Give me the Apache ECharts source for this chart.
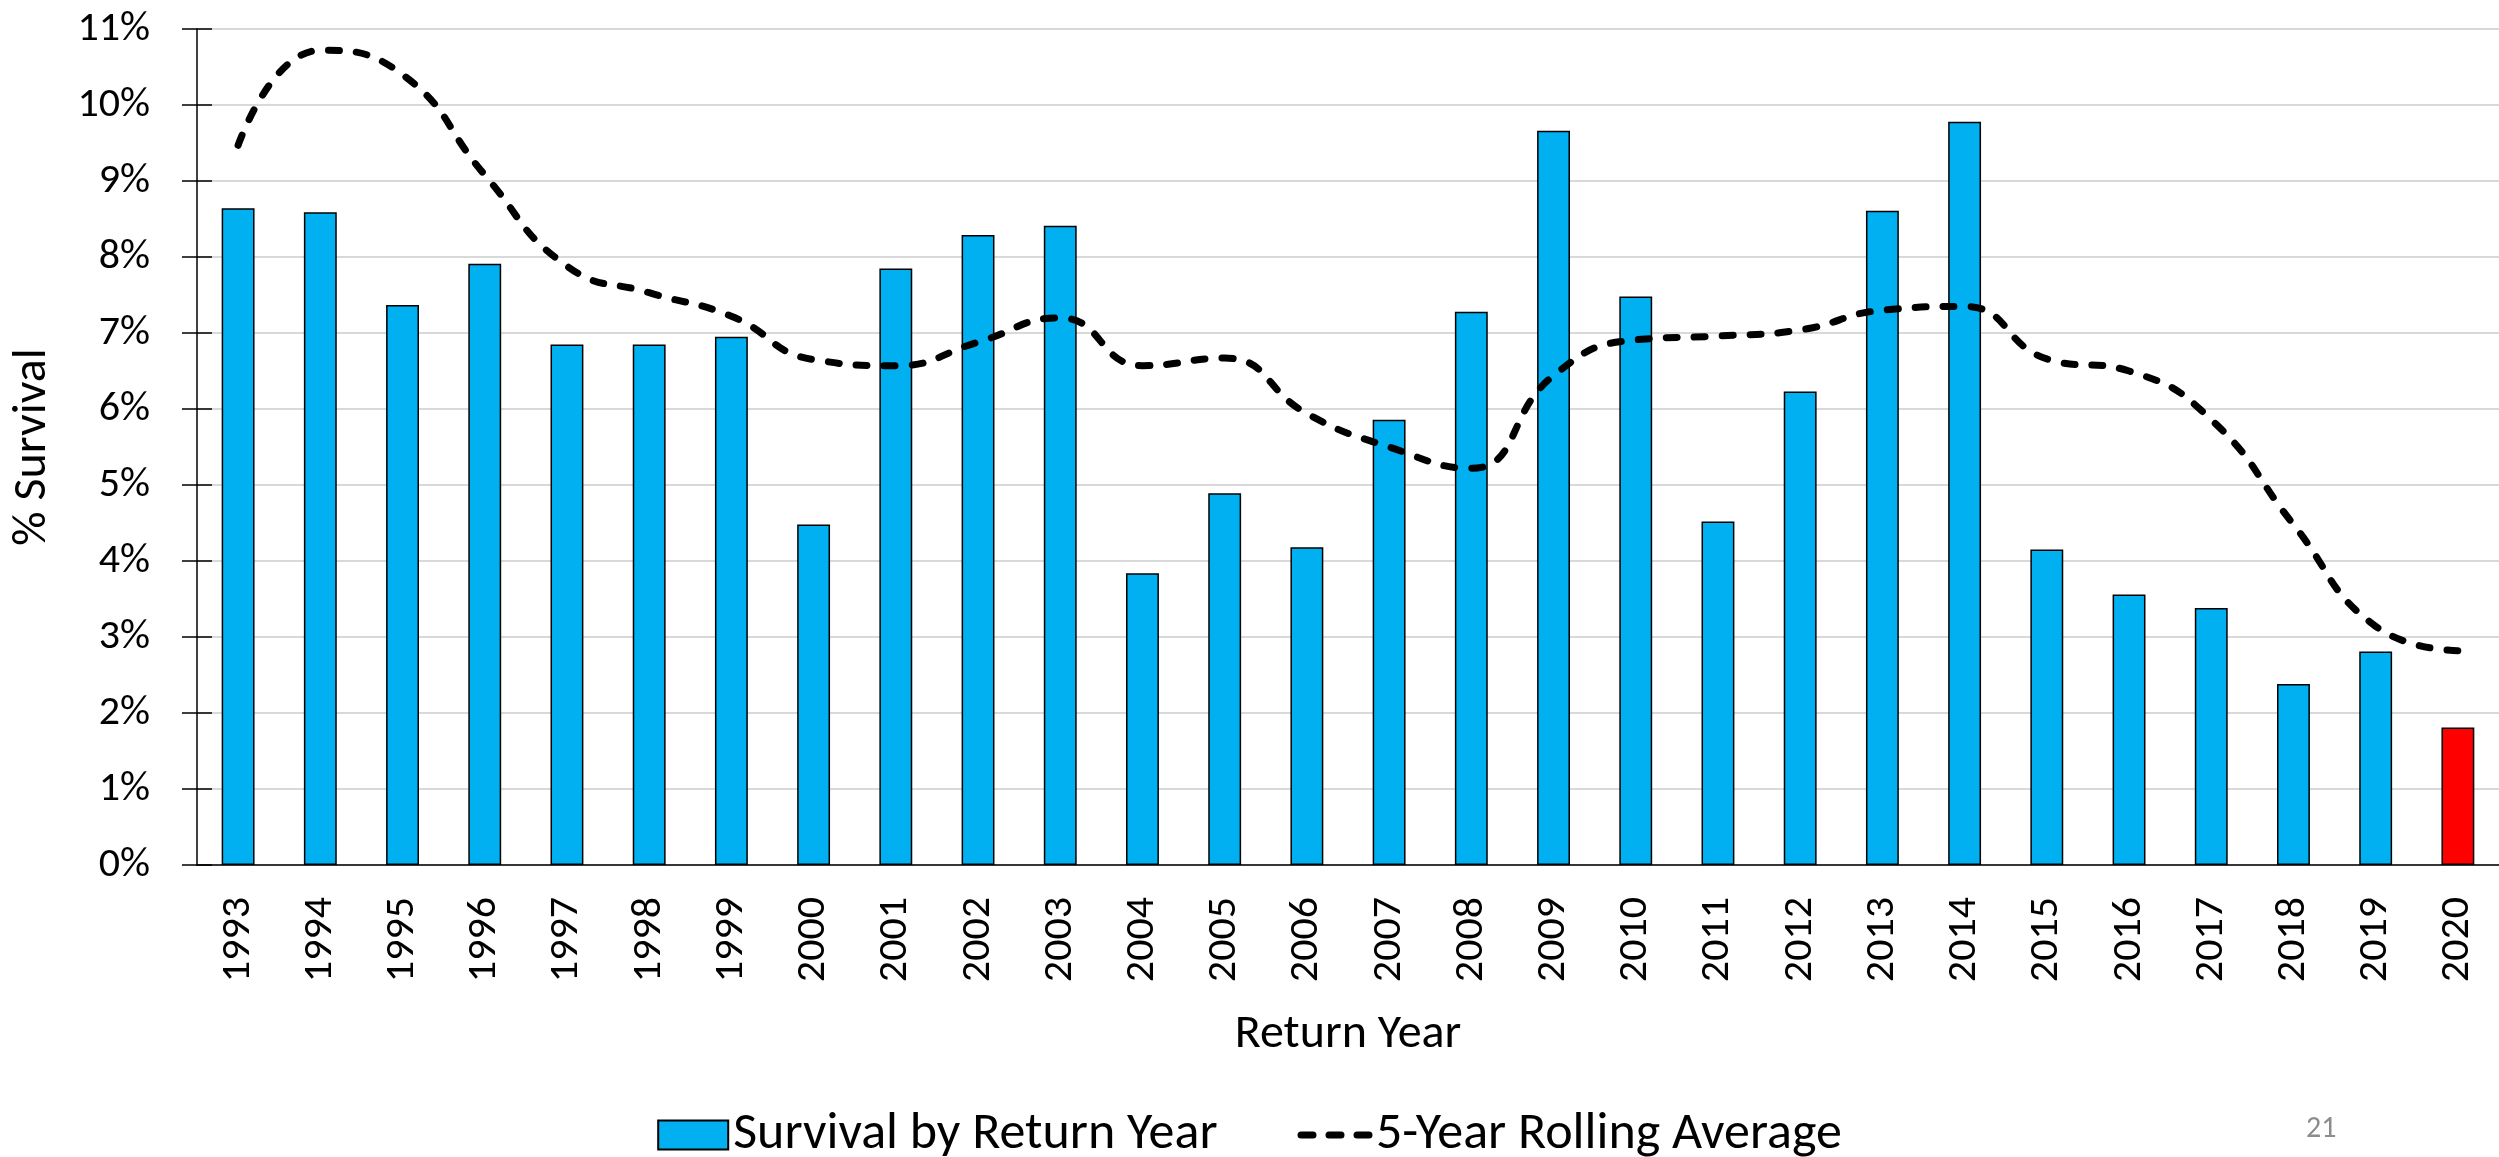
<!DOCTYPE html>
<html>
<head>
<meta charset="utf-8">
<title>Survival by Return Year</title>
<script src="https://cdn.jsdelivr.net/npm/echarts@6/dist/echarts.min.js"></script>
<style>
  html, body { margin: 0; padding: 0; background: #fff; }
  #chart { width: 2499px; height: 1157px; }
</style>
</head>
<body>
<div id="chart"></div>
<script>
// return years (x axis)
const years = ['1993', '1994', '1995', '1996', '1997', '1998', '1999', '2000', '2001', '2002',
  '2003', '2004', '2005', '2006', '2007', '2008', '2009', '2010', '2011', '2012',
  '2013', '2014', '2015', '2016', '2017', '2018', '2019', '2020'];

// % survival per return year
const survival = [8.64, 8.59, 7.37, 7.91, 6.85, 6.85, 6.95, 4.48, 7.85, 8.29,
  8.41, 3.84, 4.89, 4.18, 5.86, 7.28, 9.66, 7.48, 4.52, 6.23,
  8.61, 9.78, 4.15, 3.56, 3.38, 2.38, 2.81, 1.81];

// 5-year rolling average (smoothed line)
const rolling = [9.47, 10.72, 10.40, 9.08, 7.88, 7.53, 7.22, 6.65, 6.57, 6.88,
  7.20, 6.57, 6.67, 5.94, 5.50, 5.22, 6.44, 6.91, 6.96, 7.04,
  7.30, 7.35, 6.66, 6.50, 5.86, 4.48, 3.14, 2.82];

// the latest year is highlighted
const highlightYear = '2020';

const yTicks = { min: 0, max: 11, interval: 1 };

const FONT = 'Carlito, Calibri, Lato, sans-serif';
const BLUE = '#00B0F0';
const RED = '#FF0000';

let chartDom = document.getElementById('chart');
let myChart = echarts.init(chartDom);

const barData = survival.map((v, i) => ({
  value: v,
  itemStyle: years[i] === highlightYear ? { color: RED } : undefined
}));

const dashStyle = { color: '#000', width: 7, type: [11, 17], cap: 'round' };

const option = {
  backgroundColor: '#fff',
  animation: false,
  textStyle: { fontFamily: FONT, color: '#000' },
  grid: { left: 197, right: 0, top: 29, bottom: 292, containLabel: false },
  legend: {
    left: 'center',
    top: 1104,
    itemWidth: 70,
    itemHeight: 29,
    itemGap: 80,
    textStyle: { fontFamily: FONT, fontSize: 52, color: '#000' },
    data: [
      { name: 'Survival by Return Year', icon: 'rect' },
      {
        name: '5-Year Rolling Average',
        itemStyle: { opacity: 0, borderWidth: 0 },
        lineStyle: { color: '#000', width: 7, type: [12, 16], cap: 'round' }
      }
    ]
  },
  xAxis: [
    {
      type: 'category',
      data: years,
      boundaryGap: true,
      name: 'Return Year',
      nameLocation: 'middle',
      nameGap: 146,
      nameTextStyle: { fontFamily: FONT, fontSize: 48, color: '#000' },
      axisLine: { lineStyle: { color: '#000', width: 1.5 } },
      axisTick: { alignWithLabel: true, length: 11, lineStyle: { color: '#000', width: 1.5 } },
      axisLabel: { rotate: 90, margin: 32, fontSize: 42, color: '#000', fontFamily: FONT, interval: 0 }
    },
    {
      type: 'category',
      data: years,
      position: 'bottom',
      boundaryGap: true,
      axisLine: { show: false },
      axisTick: { alignWithLabel: true, inside: true, length: 11, lineStyle: { color: '#000', width: 1.5 } },
      axisLabel: { show: false }
    }
  ],
  yAxis: [
    {
      type: 'value',
      min: yTicks.min,
      max: yTicks.max,
      interval: yTicks.interval,
      name: '% Survival',
      nameLocation: 'middle',
      nameGap: 140,
      nameTextStyle: { fontFamily: FONT, fontSize: 48, color: '#000' },
      axisLine: { show: true, lineStyle: { color: '#000', width: 1.5 } },
      axisTick: { show: true, length: 15, lineStyle: { color: '#000', width: 1.5 } },
      axisLabel: { formatter: '{value}%', margin: 47, fontSize: 42, color: '#000', fontFamily: FONT },
      splitLine: { show: true, lineStyle: { color: '#d9d9d9', width: 2 } }
    },
    {
      type: 'value',
      position: 'left',
      min: yTicks.min,
      max: yTicks.max,
      interval: yTicks.interval,
      axisLine: { show: false },
      axisTick: { show: true, inside: true, length: 15, lineStyle: { color: '#000', width: 1.5 } },
      axisLabel: { show: false },
      splitLine: { show: false }
    }
  ],
  series: [
    {
      name: 'Survival by Return Year',
      type: 'bar',
      barWidth: '40%',
      itemStyle: { color: BLUE, borderColor: '#000', borderWidth: 1.5 },
      data: barData,
      z: 2
    },
    {
      name: '5-Year Rolling Average',
      type: 'line',
      smooth: true,
      symbol: 'none',
      lineStyle: dashStyle,
      itemStyle: { color: '#000' },
      data: rolling,
      z: 3
    }
  ],
  graphic: [
    {
      type: 'text',
      left: 2306,
      top: 1114,
      style: { text: '21', fill: '#8c8c8c', font: '30px ' + FONT }
    }
  ]
};

myChart.setOption(option);
</script>
</body>
</html>
